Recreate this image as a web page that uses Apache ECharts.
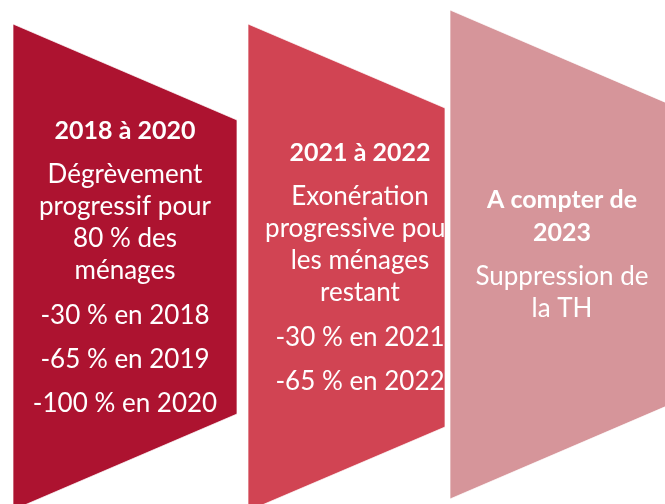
<!DOCTYPE html>
<html>
<head>
<meta charset="utf-8">
<script src="https://cdn.jsdelivr.net/npm/echarts@6/dist/echarts.min.js"></script>
<style>
  html, body { margin: 0; padding: 0; background: #fff; }
  #main { width: 665px; height: 504px; }
</style>
</head>
<body>
<div id="main"></div>
<script>
// contenu des trois étapes
const titles = [["2018 à 2020"], ["2021 à 2022"], ["A compter de", "2023"]];
const descriptions = [
  ["Dégrèvement", "progressif pour", "80 % des", "ménages"],
  ["Exonération", "progressive pour", "les ménages", "restant"],
  ["Suppression de", "la TH"]
];
const steps = [
  ["-30 % en 2018", "-65 % en 2019", "-100 % en 2020"],
  ["-30 % en 2021", "-65 % en 2022"],
  []
];
const colors = ["#AD1330", "#D14453", "#D6959A"];

// géométrie des flèches (px)
const boxes = [
  { left: 13, right: 237, top: 24, bottom: 510, drop: 96, textX: 125 },
  { left: 248, right: 445, top: 24, bottom: 511, drop: 84, textX: 360 },
  { left: 450, right: 674, top: 10, bottom: 499, drop: 96, textX: 562 }
];

const FONT = "Lato";
const TITLE_SIZE = 25, TEXT_SIZE = 26;
const TITLE_LH = 33, GAP_DESC = 44, DESC_LH = 32, GAP_STEPS = 45, STEP_LH = 44;

const chart = echarts.init(document.getElementById("main"), null, { renderer: "canvas" });

const elements = [];
boxes.forEach((b, i) => {
  const z = i * 10;
  elements.push({
    type: "polygon",
    z: z,
    shape: {
      points: [
        [b.left, b.top],
        [b.right, b.top + b.drop],
        [b.right, b.bottom - b.drop],
        [b.left, b.bottom]
      ]
    },
    style: { fill: colors[i], stroke: "rgba(255,255,255,0.7)", lineWidth: 1 }
  });

  // lignes de texte empilées puis centrées verticalement dans la flèche
  const lines = [];
  let y = 0;
  titles[i].forEach((t, k) => {
    if (k > 0) y += TITLE_LH;
    lines.push({ text: t, y: y, bold: true });
  });
  descriptions[i].forEach((t, k) => {
    y += k === 0 ? GAP_DESC : DESC_LH;
    lines.push({ text: t, y: y });
  });
  steps[i].forEach((t, k) => {
    y += k === 0 ? GAP_STEPS : STEP_LH;
    lines.push({ text: t, y: y });
  });
  const offset = (b.top + b.bottom) / 2 - y / 2;

  lines.forEach(l => {
    elements.push({
      type: "text",
      z: z + 1,
      x: b.textX,
      y: offset + l.y,
      style: {
        text: l.text,
        fill: "#fff",
        font: l.bold ? "bold " + TITLE_SIZE + "px " + FONT : TEXT_SIZE + "px " + FONT,
        align: "center",
        verticalAlign: "middle"
      }
    });
  });
});

chart.setOption({
  backgroundColor: "#fff",
  animation: false,
  graphic: { elements: elements }
});
</script>
</body>
</html>
